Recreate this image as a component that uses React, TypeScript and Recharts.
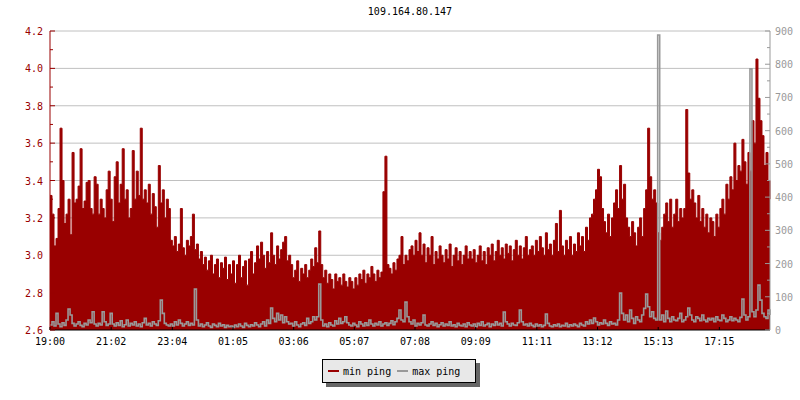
import React from "react";
import {
  ComposedChart,
  Area,
  Line,
  XAxis,
  YAxis,
  CartesianGrid,
} from "recharts";

const title = "109.164.80.147";
const startLabel = "19:00";
const sampleStep = 4; // minutes between samples

const timeLabels = [
  "19:00", "21:02", "23:04", "01:05", "03:06", "05:07",
  "07:08", "09:09", "11:11", "13:12", "15:13", "17:15",
];

const leftTicks = [2.6, 2.7, 2.8, 2.9, 3.0, 3.1, 3.2, 3.3, 3.4, 3.5, 3.6, 3.7, 3.8, 3.9, 4.0, 4.1, 4.2];
const rightTicks = [0, 50, 100, 150, 200, 250, 300, 350, 400, 450, 500, 550, 600, 650, 700, 750, 800, 850, 900];
const gridValues = [2.8, 3.0, 3.2, 3.4, 3.6, 3.8, 4.0, 4.2];

// min ping, left axis (one row = 2 hours)
const minPing = [
  3.32, 3.22, 3.05, 3.09, 3.25, 3.68, 3.4, 3.17, 3.22, 3.3, 3.11, 3.55, 3.28, 3.3, 3.37, 3.57, 3.25, 3.29, 3.39, 3.4, 3.25, 3.22, 3.42, 3.38, 3.22, 3.3, 3.25, 3.2, 3.35, 3.45,
  3.3, 3.18, 3.42, 3.5, 3.28, 3.38, 3.57, 3.3, 3.35, 3.2, 3.25, 3.56, 3.3, 3.45, 3.32, 3.68, 3.3, 3.35, 3.28, 3.38, 3.22, 3.33, 3.26, 3.15, 3.48, 3.28, 3.35, 3.2, 3.3, 3.25,
  3.08, 3.05, 3.1, 3.02, 3.06, 3.25, 3.04, 3.0, 3.08, 3.05, 3.1, 3.22, 3.03, 3.06, 2.98, 3.02, 2.95, 2.99, 2.92, 2.97, 3.0, 2.9, 2.95, 2.98, 2.88, 2.96, 2.93, 2.99, 2.87, 2.95,
  2.9, 2.97, 2.85, 2.95, 3.0, 2.88, 2.94, 2.97, 2.84, 2.98, 3.02, 2.9, 2.96, 3.05, 2.98, 3.07, 3.0, 2.93, 3.02, 2.96, 3.12, 3.0, 2.95, 3.05, 2.98, 3.03, 3.07, 3.1, 2.97, 3.0,
  2.95, 2.88, 2.92, 2.97, 2.86, 2.93, 2.9, 2.95, 2.88, 2.92, 2.98, 2.94, 3.04, 2.96, 3.13, 2.95, 2.88, 2.92, 2.85, 2.9, 2.87, 2.82, 2.9, 2.86, 2.88, 2.84, 2.9, 2.86, 2.83, 2.88,
  2.86, 2.82, 2.88, 2.84, 2.9, 2.87, 2.92, 2.85, 2.9, 2.88, 2.94, 2.9, 2.86, 2.92, 2.88, 2.91, 3.34, 3.53, 2.95, 2.93, 2.9, 2.96, 2.92, 2.98, 3.0, 3.1, 2.95, 3.0, 2.97, 3.03,
  3.05, 3.0, 3.08, 3.02, 3.12, 3.0, 3.06, 2.96, 3.04, 3.0, 3.1, 2.95, 3.02, 2.98, 3.05, 3.0, 2.96, 3.03, 2.98, 3.06, 2.94, 3.0, 3.04, 2.97, 3.02, 2.95, 3.0, 3.05, 2.98, 3.02,
  2.98, 3.03, 2.96, 3.0, 3.05, 2.97, 3.02, 2.95, 3.04, 3.0, 3.06, 2.97, 3.02, 3.08, 3.0, 3.04, 2.98, 3.06, 3.01, 3.05, 2.97, 3.03, 3.08, 3.0, 3.05, 2.98, 3.04, 3.1, 3.0, 3.03,
  3.05, 3.0, 3.08, 3.02, 3.1, 3.04, 3.0, 3.12, 3.03, 3.06, 3.0, 3.08, 3.17, 3.02, 3.24, 3.05, 3.0, 3.08, 3.03, 3.1, 3.0, 3.06, 3.02, 3.12, 3.05, 3.1, 3.02, 3.15, 3.08, 3.2,
  3.22, 3.3, 3.35, 3.46, 3.42, 3.25, 3.18, 3.12, 3.22, 3.1, 3.2, 3.28, 3.35, 3.25, 3.48, 3.3, 3.38, 3.2, 3.15, 3.1, 3.18, 3.12, 3.05, 3.15, 3.2, 3.1, 3.25, 3.35, 3.68, 3.42,
  3.3, 3.35, 3.28, 3.12, 3.08, 3.15, 3.22, 3.28, 3.18, 3.3, 3.15, 3.22, 3.3, 3.18, 3.25, 3.2, 3.25, 3.78, 3.44, 3.3, 3.35, 3.28, 3.2, 3.32, 3.18, 3.25, 3.15, 3.22, 3.12, 3.2,
  3.18, 3.1, 3.22, 3.15, 3.25, 3.3, 3.22, 3.38, 3.3, 3.42, 3.35, 3.6, 3.4, 3.48, 3.45, 3.62, 3.5, 3.38, 3.55, 3.45, 3.72, 3.6, 4.05, 3.84, 3.72, 3.64, 3.48, 3.55, 3.4, 3.3,
];

// max ping, right axis
const maxPing = [
  15, 25, 12, 50, 18, 10, 22, 14, 30, 63, 45, 20, 12, 18, 25, 14, 10, 20, 15, 30, 22, 55, 18, 12, 20, 15, 55, 25, 14, 18,
  50, 18, 12, 22, 14, 28, 10, 16, 30, 12, 20, 15, 25, 12, 18, 10, 22, 35, 15, 20, 12, 25, 18, 14, 28, 90, 50, 20, 15, 12,
  18, 12, 25, 15, 30, 20, 12, 18, 25, 14, 20, 15, 123, 30, 12, 18, 10, 15, 22, 12, 8, 18, 14, 10, 20, 12, 16, 8, 14, 10,
  12, 8, 15, 10, 18, 12, 8, 20, 14, 10, 16, 12, 22, 15, 10, 18, 25, 12, 30, 20, 66, 35, 25, 50, 30, 45, 22, 40, 25, 18,
  20, 12, 25, 15, 10, 18, 22, 14, 35, 20, 25, 40, 30, 40, 138, 30, 12, 18, 10, 22, 15, 12, 28, 18, 35, 20, 25, 40, 22, 15,
  12, 20, 15, 10, 25, 18, 12, 22, 14, 30, 18, 12, 20, 15, 25, 12, 18, 22, 14, 20, 28, 16, 25, 35, 60, 30, 25, 84, 40, 25,
  18, 30, 12, 20, 15, 22, 45, 15, 12, 18, 25, 14, 20, 10, 16, 22, 12, 18, 14, 25, 12, 16, 10, 20, 14, 12, 18, 10, 22, 15,
  12, 18, 10, 20, 14, 25, 12, 16, 20, 10, 18, 14, 25, 15, 20, 12, 54, 25, 18, 12, 20, 15, 14, 22, 60, 25, 15, 18, 12, 20,
  14, 10, 18, 12, 16, 10, 14, 48, 20, 12, 10, 16, 12, 18, 10, 14, 12, 20, 10, 16, 12, 18, 14, 10, 20, 15, 12, 25, 18, 30,
  20, 36, 25, 15, 22, 18, 30, 20, 14, 25, 18, 20, 15, 30, 111, 50, 30, 45, 25, 60, 35, 20, 40, 30, 25, 45, 65, 108, 70, 40,
  55, 35, 30, 888, 30, 45, 25, 57, 35, 25, 40, 30, 28, 35, 50, 25, 30, 40, 66, 45, 30, 25, 40, 35, 28, 45, 30, 25, 35, 30,
  35, 25, 40, 30, 28, 45, 35, 25, 30, 40, 28, 35, 30, 25, 38, 93, 45, 30, 40, 786, 55, 40, 60, 135, 90, 50, 40, 35, 60, 45,
];

const toMinutes = (label: string) => {
  const [h, m] = label.split(":").map(Number);
  const [h0, m0] = startLabel.split(":").map(Number);
  return (h * 60 + m - (h0 * 60 + m0) + 1440) % 1440;
};

const data = minPing.map((v, i) => ({ t: i * sampleStep, min: v, max: maxPing[i] }));
const xTicks = timeLabels.map(toMinutes);

const FONT = "'DejaVu Sans Mono', monospace";
const RED = "#990000";
const GRAY = "#999999";

const LeftTick = (props: any) => {
  const { x, y, payload } = props;
  const major = Math.round(payload.value * 10) % 2 === 0;
  return (
    <g>
      <line x1={x} x2={x + (major ? 5 : 3)} y1={y} y2={y} stroke={RED} />
      {major && (
        <text x={x - 7} y={y + 4} textAnchor="end" fill={RED} fontSize={10} fontFamily={FONT}>
          {payload.value.toFixed(1)}
        </text>
      )}
    </g>
  );
};

const RightTick = (props: any) => {
  const { x, y, payload } = props;
  const major = payload.value % 100 === 0;
  return (
    <g>
      <line x1={x} x2={x - (major ? 5 : 3)} y1={y} y2={y} stroke={GRAY} />
      {major && (
        <text x={x + 5} y={y + 4} textAnchor="start" fill={GRAY} fontSize={10} fontFamily={FONT}>
          {payload.value}
        </text>
      )}
    </g>
  );
};

const TimeTick = (props: any) => {
  const { x, y, payload, index } = props;
  return (
    <g>
      <line x1={x} x2={x} y1={y} y2={y - 3} stroke="#000" />
      <text x={x} y={y + 15} textAnchor="middle" fill="#000" fontSize={10} fontFamily={FONT}>
        {timeLabels[index] ?? payload.value}
      </text>
    </g>
  );
};

export default function App() {
  return (
    <div style={{ position: "absolute", left: 0, top: 0, width: 800, height: 400, background: "#fff" }}>
      <div
        style={{
          position: "absolute",
          left: 50,
          width: 720,
          top: 6,
          textAlign: "center",
          fontFamily: FONT,
          fontSize: 10,
          color: "#000",
        }}
      >
        {title}
      </div>
      <ComposedChart
        width={800}
        height={400}
        data={data}
        margin={{ top: 31, right: 0, left: 0, bottom: 50 }}
      >
        <CartesianGrid
          vertical={false}
          horizontalValues={gridValues}
          yAxisId="left"
          stroke="#c0c0c0"
        />
        <XAxis
          dataKey="t"
          type="number"
          domain={[0, (minPing.length - 1) * sampleStep]}
          ticks={xTicks}
          interval={0}
          height={20}
          tickSize={0}
          tickMargin={0}
          tick={<TimeTick />}
          axisLine={{ stroke: "#000" }}
          tickLine={false}
        />
        <YAxis
          yAxisId="left"
          orientation="left"
          domain={[2.6, 4.2]}
          ticks={leftTicks}
          interval={0}
          allowDataOverflow
          width={50}
          tickSize={0}
          tickMargin={0}
          tick={<LeftTick />}
          tickLine={false}
          axisLine={{ stroke: RED }}
        />
        <YAxis
          yAxisId="right"
          orientation="right"
          domain={[0, 900]}
          ticks={rightTicks}
          interval={0}
          allowDataOverflow
          width={30}
          tickSize={0}
          tickMargin={0}
          tick={<RightTick />}
          tickLine={false}
          axisLine={{ stroke: GRAY }}
        />
        <Area
          yAxisId="left"
          type="stepAfter"
          dataKey="min"
          name="min ping"
          stroke={RED}
          strokeWidth={1}
          fill={RED}
          fillOpacity={1}
          baseValue={2.6}
          isAnimationActive={false}
          dot={false}
          activeDot={false}
        />
        <Line
          yAxisId="right"
          type="stepAfter"
          dataKey="max"
          name="max ping"
          stroke={GRAY}
          strokeWidth={1.6}
          dot={false}
          activeDot={false}
          isAnimationActive={false}
        />
      </ComposedChart>
      <div
        style={{
          position: "absolute",
          left: 322,
          top: 359,
          height: 22,
          border: "1px solid #000",
          background: "#e8e8e8",
          boxShadow: "4px 4px 0 #666",
          fontFamily: FONT,
          fontSize: 10,
          display: "flex",
          alignItems: "center",
          paddingLeft: 5,
          boxSizing: "content-box",
          width: 147,
        }}
      >
        <span style={{ display: "inline-block", width: 11, height: 2, background: RED, marginRight: 4 }} />
        <span>min ping</span>
        <span style={{ display: "inline-block", width: 11, height: 2, background: GRAY, marginLeft: 6, marginRight: 4 }} />
        <span>max ping</span>
      </div>
    </div>
  );
}
